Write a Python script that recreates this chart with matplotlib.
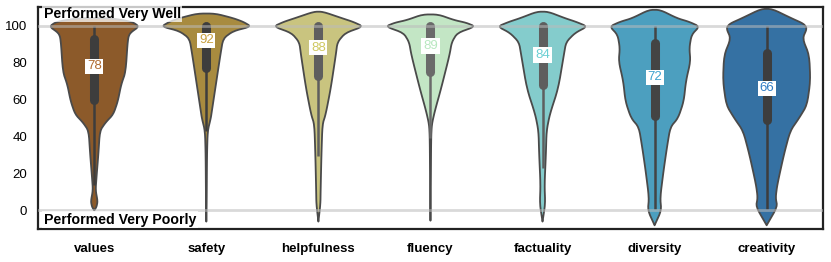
import numpy as np
import matplotlib
matplotlib.use('Agg')
import matplotlib.pyplot as plt

plt.rcParams['font.family'] = ['Liberation Sans', 'DejaVu Sans']

categories = ['values', 'safety', 'helpfulness', 'fluency', 'factuality', 'diversity', 'creativity']
colors = ['#8c5a2a', '#a88b3f', '#c9c47f', '#c3e6c5', '#84cccc', '#4c9fbf', '#3571a3']
label_colors = ['#b06a30', '#c8a040', '#cfc860', '#b8e8c0', '#6cd0d4', '#3fa3d0', '#2f7cc4']
box_colors = ['#3d3d3d', '#3d3d3d', '#5e5e5e', '#6a6a6a', '#5e5e5e', '#444444', '#3d3d3d']

# median score labelled on each violin
medians = [78, 92, 88, 89, 84, 72, 66]
q1 = [60, 77, 72.5, 75, 68, 51, 49]
q3 = [93, 100, 100, 100, 100, 90.5, 85]
whisker_lo = [14, 43, 29.5, 39, 23, 1, 1]
whisker_hi = [100, 100, 100, 100, 100, 100, 100]

# violin outlines: score levels and half widths
profile_y = {
    'values':      [0, 2, 5, 11, 18, 30, 43, 47.5, 52, 59, 68, 75, 93, 96, 99.5, 102, 104],
    'safety':      [-6, 3.5, 30, 43, 50, 54, 66, 84, 93, 97, 99.5, 102, 104, 106.5],
    'helpfulness': [-6, 3.5, 11, 30, 46.5, 52, 66, 84, 91, 96, 99.5, 102, 104, 107.5],
    'fluency':     [-5.5, 10, 39, 46.5, 54, 66, 84, 91, 96, 99.5, 101.5, 103, 106],
    'factuality':  [-6, 3.5, 14, 30.5, 43, 52, 66, 84, 91, 96, 99.5, 102, 104, 107.5],
    'diversity':   [-8, 0, 7, 21.5, 34, 45, 50, 59, 70, 80.6, 88, 95, 99.5, 102, 104, 108.5],
    'creativity':  [-8, 2, 7, 14, 30.5, 43, 50, 57, 70, 84, 93, 98.5, 101, 104, 109],
}
profile_w = {
    'values':      [0, 0.02, 0.03, 0.012, 0.02, 0.036, 0.05, 0.10, 0.17, 0.21, 0.24, 0.28, 0.30, 0.32, 0.40, 0.34, 0.15],
    'safety':      [0, 0.003, 0.006, 0.012, 0.04, 0.05, 0.08, 0.125, 0.15, 0.24, 0.40, 0.33, 0.24, 0.08],
    'helpfulness': [0, 0.018, 0.02, 0.027, 0.036, 0.065, 0.11, 0.155, 0.17, 0.24, 0.40, 0.31, 0.21, 0.04],
    'fluency':     [0, 0.003, 0.006, 0.012, 0.04, 0.095, 0.17, 0.19, 0.24, 0.40, 0.32, 0.21, 0.07],
    'factuality':  [0, 0.024, 0.018, 0.03, 0.036, 0.065, 0.14, 0.19, 0.21, 0.29, 0.40, 0.30, 0.20, 0.05],
    'diversity':   [0, 0.06, 0.05, 0.08, 0.11, 0.14, 0.21, 0.26, 0.28, 0.32, 0.31, 0.33, 0.40, 0.31, 0.20, 0.05],
    'creativity':  [0, 0.095, 0.08, 0.095, 0.155, 0.21, 0.29, 0.36, 0.39, 0.38, 0.32, 0.36, 0.33, 0.22, 0.05],
}


def outline(x0, ys, ws):
    # closed outline of one violin, corners softened a little (chaikin)
    px = np.concatenate([x0 + ws, (x0 - ws)[::-1]])
    py = np.concatenate([ys, ys[::-1]])
    for _ in range(2):
        nx, ny = [], []
        n = len(px)
        for k in range(n):
            a, b = k, (k + 1) % n
            nx += [0.8 * px[a] + 0.2 * px[b], 0.2 * px[a] + 0.8 * px[b]]
            ny += [0.8 * py[a] + 0.2 * py[b], 0.2 * py[a] + 0.8 * py[b]]
        px, py = np.array(nx), np.array(ny)
    return px, py


fig, ax = plt.subplots(figsize=(8.31, 2.62), dpi=100)
fig.subplots_adjust(left=0.046, right=0.990, top=0.973, bottom=0.126)

for i, cat in enumerate(categories):
    ys = np.array(profile_y[cat], dtype=float)
    ws = np.array(profile_w[cat], dtype=float)
    px, py = outline(i, ys, ws)
    ax.fill(px, py, facecolor=colors[i], edgecolor='#4a4a4a', linewidth=1.3,
            joinstyle='round', zorder=2)
    ax.vlines(i, whisker_lo[i], whisker_hi[i], color=box_colors[i], lw=1.8, zorder=3)
    ax.vlines(i, q1[i], q3[i], color=box_colors[i], lw=6.5, zorder=3, capstyle='round')
    ax.text(i, medians[i], str(medians[i]), color=label_colors[i], fontsize=9.5,
            ha='center', va='center', zorder=5,
            bbox=dict(facecolor='white', edgecolor='none', pad=1.2))

ax.axhline(100, color='#bbbbbb', lw=2, alpha=0.55, zorder=4)
ax.axhline(0, color='#bbbbbb', lw=2, alpha=0.55, zorder=4)

ax.text(-0.45, 106.5, 'Performed Very Well', fontsize=10.2, fontweight='bold', ha='left',
        va='center', zorder=6, bbox=dict(facecolor='white', edgecolor='none', alpha=0.75, pad=1))
ax.text(-0.45, -5, 'Performed Very Poorly', fontsize=10.2, fontweight='bold', ha='left',
        va='center', zorder=6, bbox=dict(facecolor='white', edgecolor='none', alpha=0.75, pad=1))

ax.set_xlim(-0.5, 6.5)
ax.set_ylim(-10, 110)
ax.set_xticks(range(len(categories)))
ax.set_xticklabels(categories, fontweight='bold', fontsize=9.5)
ax.set_yticks([0, 20, 40, 60, 80, 100])
ax.tick_params(axis='both', length=0, labelsize=9.5, pad=8)
ax.tick_params(axis='x', pad=10)
for s in ax.spines.values():
    s.set_linewidth(1.6)
    s.set_color('#222222')

fig.savefig('out.png', dpi=100)
